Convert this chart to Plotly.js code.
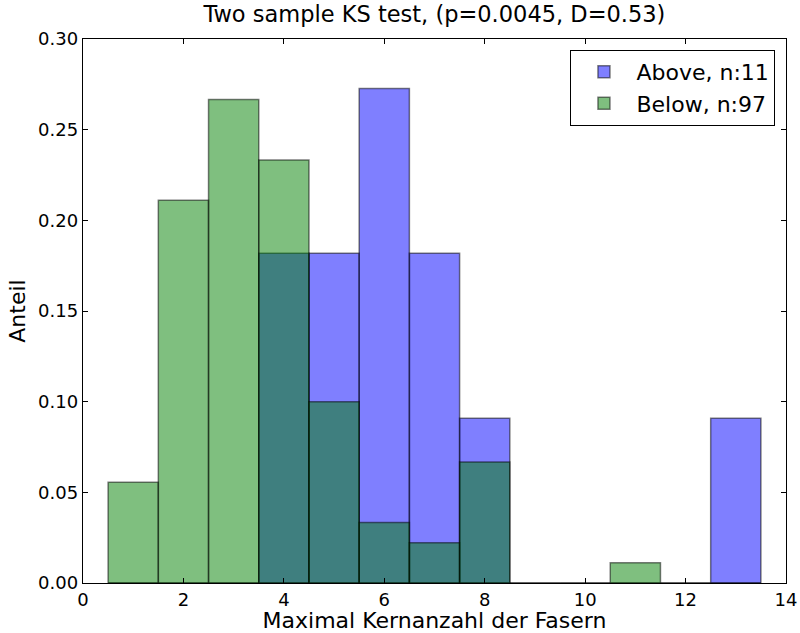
<!DOCTYPE html>
<html>
<head>
<meta charset="utf-8">
<script src="https://cdn.plot.ly/plotly-3.0.1.min.js"></script>
<style>html,body{margin:0;padding:0;background:#fff;}</style>
</head>
<body>
<div id="chart" style="width:800px;height:633px;"></div>
<script>
const binCenters = [1,2,3,4,5,6,7,8,9,10,11,12,13];
const aboveValues = [0,0,0,0.1818,0.1818,0.2727,0.1818,0.0909,0,0,0,0,0.0909];
const belowValues = [0.0556,0.2111,0.2667,0.2333,0.1,0.0333,0.0222,0.0667,0,0,0.0111,0,0];
const aboveName = "Above, n:11";
const belowName = "Below, n:97";
const xTicks = [0,2,4,6,8,10,12,14];
const yTicks = [0,0.05,0.10,0.15,0.20,0.25,0.30];

const font = "DejaVu Sans, sans-serif";
const data = [
  {type:"bar", x:binCenters, y:aboveValues, width:1, name:aboveName,
   marker:{color:"rgba(0,0,255,0.5)", line:{color:"rgba(0,0,0,0.5)", width:1.5}}},
  {type:"bar", x:binCenters, y:belowValues, width:1, name:belowName,
   marker:{color:"rgba(0,128,0,0.5)", line:{color:"rgba(0,0,0,0.5)", width:1.5}}}
];
const layout = {
  width:800, height:633,
  margin:{l:83, r:14, t:39, b:50},
  paper_bgcolor:"#fff", plot_bgcolor:"#fff",
  barmode:"overlay",
  font:{family:font, size:18, color:"#000"},
  title:{text:"Two sample KS test, (p=0.0045, D=0.53)", font:{family:font, size:22.5, color:"#000"}, x:0.543, xanchor:"center", y:1, yref:"container", yanchor:"top", pad:{t:6}},
  xaxis:{range:[0,14], tickvals:xTicks, ticktext:xTicks.map(String), ticks:"inside", ticklen:5, tickcolor:"#000",
    tickfont:{size:18},
    showline:true, linecolor:"#000", linewidth:1.3, mirror:"ticks", showgrid:false, zeroline:false,
    title:{text:"Maximal Kernanzahl der Fasern", font:{family:font, size:22}, standoff:2}},
  yaxis:{range:[0,0.30], tickvals:yTicks, ticktext:yTicks.map(v=>v.toFixed(2)), ticks:"inside", ticklen:5, tickcolor:"#000",
    tickfont:{size:18},
    showline:true, linecolor:"#000", linewidth:1.3, mirror:"ticks", showgrid:false, zeroline:false,
    title:{text:"Anteil", font:{family:font, size:22}, standoff:6}},
  legend:{x:0.985, y:0.98, xanchor:"right", yanchor:"top", bordercolor:"#000", borderwidth:1, bgcolor:"#fff",
    font:{family:font, size:22}, tracegroupgap:0, itemwidth:55}
};
Plotly.newPlot("chart", data, layout, {displayModeBar:false, staticPlot:true});
</script>
</body>
</html>
